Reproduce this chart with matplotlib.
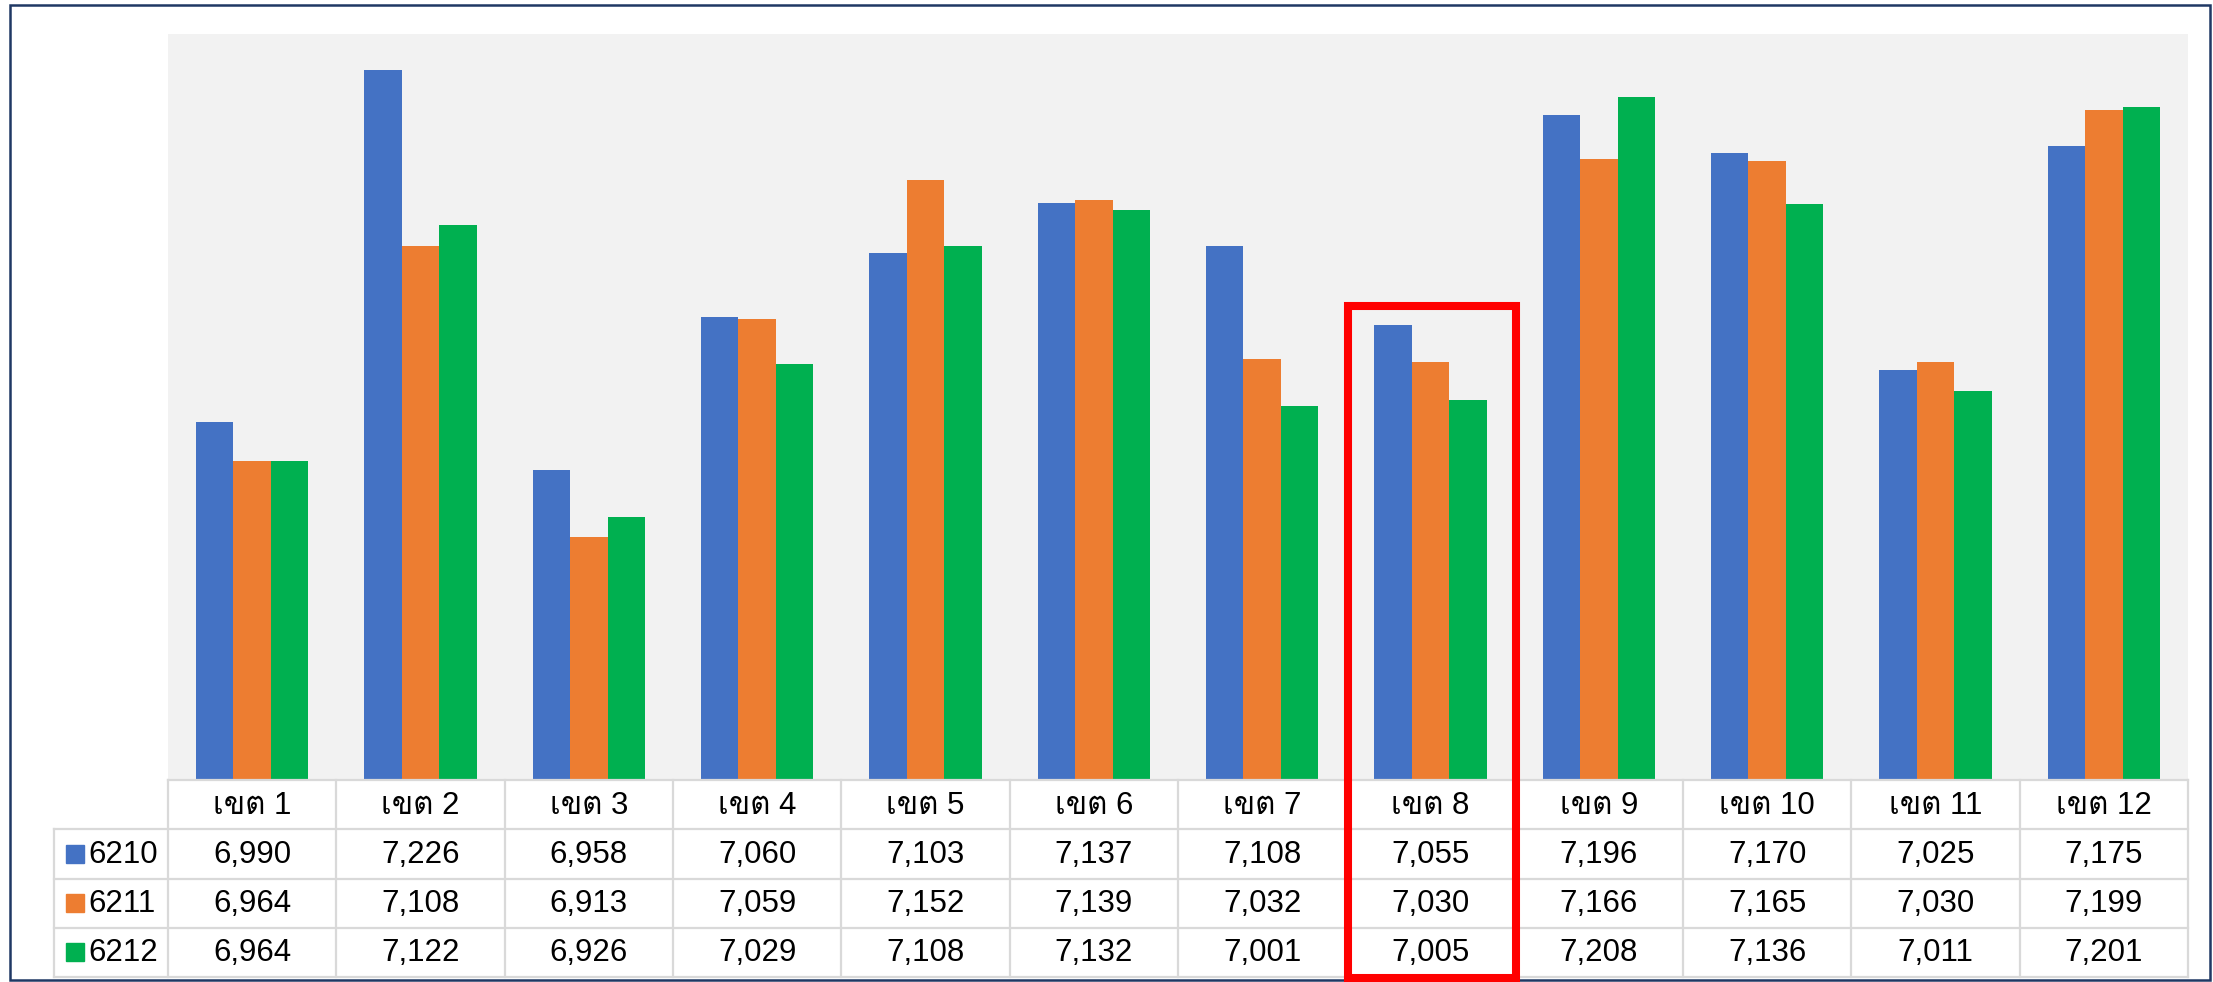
import matplotlib
matplotlib.use("Agg")
import matplotlib.pyplot as plt
from matplotlib import font_manager as fm
from matplotlib.patches import Rectangle
from matplotlib.lines import Line2D
import matplotlib.transforms as mtransforms
import numpy as np

# ---------------- data ----------------
categories = ["เขต 1", "เขต 2", "เขต 3", "เขต 4", "เขต 5", "เขต 6",
              "เขต 7", "เขต 8", "เขต 9", "เขต 10", "เขต 11", "เขต 12"]
series_names = ["6210", "6211", "6212"]
s6210 = [6990, 7226, 6958, 7060, 7103, 7137, 7108, 7055, 7196, 7170, 7025, 7175]
s6211 = [6964, 7108, 6913, 7059, 7152, 7139, 7032, 7030, 7166, 7165, 7030, 7199]
s6212 = [6964, 7122, 6926, 7029, 7108, 7132, 7001, 7005, 7208, 7136, 7011, 7201]
series = [s6210, s6211, s6212]
colors = ["#4472C4", "#ED7D31", "#00B050"]
y_min, y_max = 6750, 7250
highlight_idx = 7
highlight_top = 7068

# ---------------- fonts ----------------
def find_thai_font():
    try:
        from fontTools.ttLib import TTFont
    except Exception:
        return None
    seen = set()
    for f in fm.fontManager.ttflist:
        if f.fname in seen:
            continue
        seen.add(f.fname)
        try:
            tt = TTFont(f.fname, fontNumber=0, lazy=True)
            cmap = tt.getBestCmap()
            if cmap and all(c in cmap for c in (0x0E40, 0x0E02, 0x0E15)):
                return f.name
        except Exception:
            continue
    return None

names = {f.name for f in fm.fontManager.ttflist}
latin = "Liberation Sans" if "Liberation Sans" in names else "DejaVu Sans"
thai = find_thai_font()
fam = [latin] + ([thai] if thai else []) + ["DejaVu Sans"]
plt.rcParams["font.family"] = fam

# ---------------- figure ----------------
W, H = 2213, 982
fig = plt.figure(figsize=(W / 100, H / 100), dpi=100)
fig.patch.set_facecolor("white")

def fx(px):
    return px / W

def fy(py):
    return 1 - py / H

plot_l, plot_r, plot_t, plot_b = 168, 2188, 34, 780
tab_l, tab_b = 54, 977
ax = fig.add_axes([fx(plot_l), fy(plot_b), fx(plot_r) - fx(plot_l), fy(plot_t) - fy(plot_b)])
ax.set_facecolor("#F2F2F2")

n = len(categories)
x = np.arange(n)
bw = 1 / 4.5
for i, (vals, c) in enumerate(zip(series, colors)):
    ax.bar(x + (i - 1) * bw, vals, width=bw, color=c, zorder=2)
ax.set_xlim(-0.5, n - 0.5)
ax.set_ylim(y_min, y_max)
ax.set_xticks([])
ax.set_yticks([])
for sp in ax.spines.values():
    sp.set_visible(False)

# ---------------- data table ----------------
col_px = (plot_r - plot_l) / n
leg_w = (plot_l - tab_l) / col_px
tab = fig.add_axes([fx(tab_l), fy(tab_b), fx(plot_r) - fx(tab_l), fy(plot_b) - fy(tab_b)])
tab.set_xlim(-0.5 - leg_w, n - 0.5)
tab.set_ylim(4, 0)
tab.axis("off")
gcol = "#D9D9D9"
glw = 1.6
fs = 22.5
# horizontal lines
tab.add_line(Line2D([-0.5, n - 0.5], [0, 0], color=gcol, lw=glw, clip_on=False))
for r in (1, 2, 3, 4):
    tab.add_line(Line2D([-0.5 - leg_w, n - 0.5], [r, r], color=gcol, lw=glw, clip_on=False))
# vertical lines
for k in range(n + 1):
    tab.add_line(Line2D([k - 0.5, k - 0.5], [0, 4], color=gcol, lw=glw, clip_on=False))
tab.add_line(Line2D([-0.5 - leg_w, -0.5 - leg_w], [1, 4], color=gcol, lw=glw, clip_on=False))

for k, cat in enumerate(categories):
    tab.text(k, 0.52, cat, ha="center", va="center", fontsize=fs, color="black")
row_h_px = (tab_b - plot_b) / 4
sq = 18
for r, (name, vals, c) in enumerate(zip(series_names, series, colors)):
    yc = r + 1.5
    tab.add_patch(Rectangle((-0.5 - leg_w + (66 - tab_l) / col_px, yc - (sq / 2) / row_h_px),
                            sq / col_px, sq / row_h_px, color=c, clip_on=False))
    tab.text(-0.5 - leg_w + (88 - tab_l) / col_px, yc + 0.02, name, ha="left", va="center",
             fontsize=fs, color="black")
    for k, v in enumerate(vals):
        tab.text(k, yc + 0.02, f"{v:,}", ha="center", va="center", fontsize=fs, color="black")

# ---------------- highlight box ----------------
top_disp = ax.transData.transform((0, highlight_top))
top_fig = fig.transFigure.inverted().transform(top_disp)[1]
bt = mtransforms.blended_transform_factory(ax.transData, fig.transFigure)
box_bottom = fy(978)
fig.add_artist(Rectangle((highlight_idx - 0.5 + 1.5 / col_px, box_bottom), 1.0, top_fig - box_bottom,
                         transform=bt, fill=False, edgecolor="#FF0000", lw=5.8,
                         clip_on=False, zorder=10))

# ---------------- outer border ----------------
fig.add_artist(Rectangle((fx(10), fy(980)), fx(2210) - fx(10), fy(5) - fy(980),
                         transform=fig.transFigure, fill=False, edgecolor="#1F3864",
                         lw=1.8, clip_on=False))

fig.savefig("out.png", dpi=100, facecolor="white")
